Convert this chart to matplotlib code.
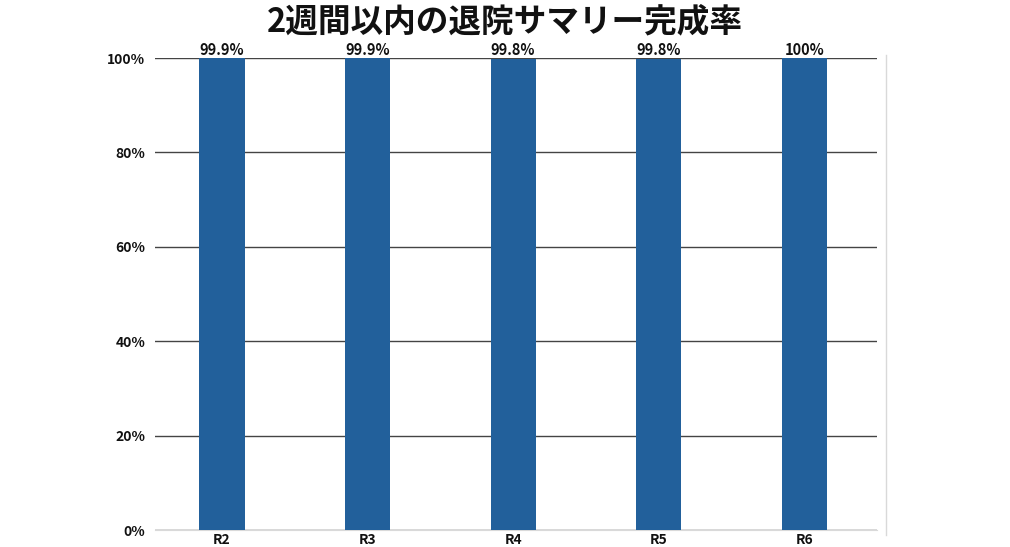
import matplotlib
matplotlib.use("Agg")
import matplotlib.pyplot as plt
from matplotlib.lines import Line2D
from matplotlib.ticker import PercentFormatter

plt.rcParams["font.family"] = ["Noto Sans CJK JP", "DejaVu Sans"]

TITLE = "2週間以内の退院サマリー完成率"
years = ["R2", "R3", "R4", "R5", "R6"]
rates = [99.9, 99.9, 99.8, 99.8, 100.0]
labels = ["99.9%", "99.9%", "99.8%", "99.8%", "100%"]

BAR = "#22609b"

fig = plt.figure(figsize=(10.10, 5.47), dpi=100)
ax = fig.add_axes([155 / 1010, 1 - 530 / 547, 722 / 1010, 472 / 547])

x = range(len(years))
ax.bar(x, rates, width=0.31, color=BAR, zorder=3)
for xi, v, lab in zip(x, rates, labels):
    ax.text(xi, 100.1, lab, ha="center", va="bottom",
            fontsize=10.5, fontweight="bold", color="#111111")

ax.set_xlim(-0.46, 4.5)
ax.set_ylim(0, 100)
ax.set_yticks([0, 20, 40, 60, 80, 100])
ax.yaxis.set_major_formatter(PercentFormatter(decimals=0))
ax.set_xticks(list(x))
ax.set_xticklabels(years)
ax.grid(axis="y", color="#444444", lw=1.0, zorder=1)
ax.tick_params(length=0, labelsize=10)
ax.tick_params(axis="y", pad=7)
ax.tick_params(axis="x", pad=2)
for lab in ax.get_xticklabels() + ax.get_yticklabels():
    lab.set_fontweight("bold")
    lab.set_color("#111111")
for side in ["top", "right", "left"]:
    ax.spines[side].set_visible(False)
ax.spines["bottom"].set_color("#d9d9d9")

# thin divider at the right edge of the plot area
fig.add_artist(Line2D([886 / 1010, 886 / 1010], [1 - 535 / 547, 1 - 55 / 547],
                      color="#d9d9d9", lw=1.0))

fig.text(0.5, 1 - 22 / 547, TITLE, ha="center", va="center",
         fontsize=23.5, fontweight="bold", color="#111111")

fig.savefig("out.png", dpi=100)
